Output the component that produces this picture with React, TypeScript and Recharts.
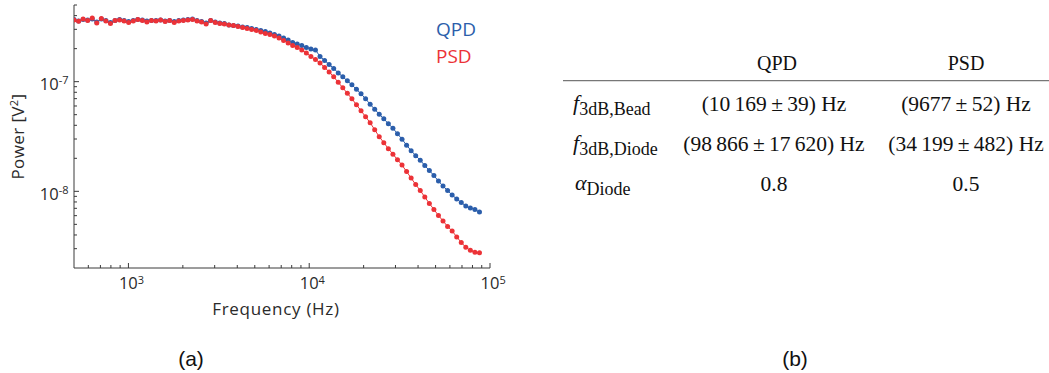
import React from 'react';
import { LineChart, Line, XAxis, YAxis, Label } from 'recharts';

// Frequency bins (Hz)
const frequencies = [
  500, 530, 561.6, 595.2, 630.7, 668.3, 708.3, 750.6, 795.5, 843, 893.3, 946.7,
  1003, 1063, 1127, 1194, 1265, 1341, 1421, 1506, 1596, 1691,
  1792, 1899, 2013, 2133, 2261, 2396, 2539, 2690, 2851, 3022,
  3202, 3393, 3596, 3811, 4039, 4280, 4535, 4806, 5093, 5398,
  5720, 6062, 6424, 6808, 7215, 7646, 8102, 8586, 9099, 9643,
  10219, 10829, 11476, 12162, 12888, 13658, 14474, 15339, 16255, 17226,
  18255, 19346, 20502, 21727, 23025, 24400, 25858, 27403, 29040, 30775,
  32614, 34562, 36627, 38815, 41134, 43591, 46196, 48955, 51880, 54979,
  58264, 61744, 65433, 69343, 73485, 77875, 82528, 87458,
];

// QPD power spectrum (V^2)
const qpdPower = [
  3.685e-7, 3.57e-7, 3.685e-7, 3.646e-7, 3.723e-7, 3.496e-7, 3.723e-7, 3.608e-7, 3.46e-7, 3.608e-7,
  3.685e-7, 3.608e-7, 3.533e-7, 3.608e-7, 3.685e-7, 3.646e-7, 3.57e-7, 3.608e-7, 3.608e-7, 3.646e-7,
  3.57e-7, 3.608e-7, 3.533e-7, 3.608e-7, 3.646e-7, 3.685e-7, 3.723e-7, 3.608e-7, 3.533e-7, 3.424e-7,
  3.608e-7, 3.496e-7, 3.424e-7, 3.388e-7, 3.283e-7, 3.249e-7, 3.215e-7, 3.149e-7, 3.116e-7, 3.052e-7,
  2.988e-7, 2.927e-7, 2.866e-7, 2.777e-7, 2.692e-7, 2.609e-7, 2.502e-7, 2.399e-7, 2.277e-7, 2.206e-7,
  2.138e-7, 2.05e-7, 1.987e-7, 1.946e-7, 1.698e-7, 1.562e-7, 1.437e-7, 1.321e-7, 1.202e-7, 1.106e-7,
  1.017e-7, 0.9352e-7, 0.8511e-7, 0.7746e-7, 0.6978e-7, 0.6218e-7, 0.5601e-7, 0.5044e-7, 0.459e-7, 0.4133e-7,
  0.3762e-7, 0.3352e-7, 0.2988e-7, 0.2636e-7, 0.2349e-7, 0.2115e-7, 0.1925e-7, 0.1716e-7, 0.1546e-7, 0.1392e-7,
  0.1241e-7, 0.1117e-7, 0.1017e-7, 0.09256e-7, 0.08511e-7, 0.07909e-7, 0.07351e-7, 0.07049e-7, 0.06832e-7, 0.06483e-7,
];

// PSD power spectrum (V^2)
const psdPower = [
  3.646e-7, 3.548e-7, 3.723e-7, 3.608e-7, 3.802e-7, 3.424e-7, 3.763e-7, 3.57e-7, 3.388e-7, 3.608e-7,
  3.646e-7, 3.57e-7, 3.46e-7, 3.57e-7, 3.685e-7, 3.608e-7, 3.496e-7, 3.608e-7, 3.57e-7, 3.646e-7,
  3.533e-7, 3.608e-7, 3.46e-7, 3.57e-7, 3.608e-7, 3.646e-7, 3.685e-7, 3.57e-7, 3.496e-7, 3.353e-7,
  3.608e-7, 3.46e-7, 3.388e-7, 3.353e-7, 3.283e-7, 3.249e-7, 3.182e-7, 3.116e-7, 3.052e-7, 2.988e-7,
  2.927e-7, 2.836e-7, 2.749e-7, 2.692e-7, 2.609e-7, 2.502e-7, 2.374e-7, 2.253e-7, 2.138e-7, 2.05e-7,
  1.946e-7, 1.827e-7, 1.698e-7, 1.595e-7, 1.482e-7, 1.349e-7, 1.228e-7, 1.106e-7, 0.9855e-7, 0.8783e-7,
  0.7828e-7, 0.6978e-7, 0.6153e-7, 0.5428e-7, 0.4786e-7, 0.4221e-7, 0.3645e-7, 0.3148e-7, 0.2777e-7, 0.2449e-7,
  0.2183e-7, 0.1945e-7, 0.1734e-7, 0.1514e-7, 0.1321e-7, 0.1153e-7, 0.1017e-7, 0.08875e-7, 0.07745e-7, 0.06832e-7,
  0.06026e-7, 0.0537e-7, 0.04786e-7, 0.04356e-7, 0.03841e-7, 0.03423e-7, 0.03084e-7, 0.02896e-7, 0.02777e-7, 0.02748e-7,
];

const xTicks = [
  600, 700, 800, 900, 1000, 2000, 3000, 4000, 5000, 6000, 7000, 8000, 9000,
  10000, 20000, 30000, 40000, 50000, 60000, 70000, 80000, 90000, 100000,
];
const yTicks = [
  3e-9, 4e-9, 5e-9, 6e-9, 7e-9, 8e-9, 9e-9, 1e-8,
  2e-8, 3e-8, 4e-8, 5e-8, 6e-8, 7e-8, 8e-8, 9e-8, 1e-7,
  2e-7, 3e-7, 4e-7, 5e-7,
];

const seriesNames = ['QPD', 'PSD'];

// Table (b)
const tableHeaders = ['QPD', 'PSD'];
const tableRowSymbols = ['f', 'f', 'α'];
const tableRowSubscripts = ['3dB,Bead', '3dB,Diode', 'Diode'];
const qpdTableValues = ['(10\u2009169\u2009±\u200939) Hz', '(98\u2009866\u2009±\u200917\u2009620) Hz', '0.8'];
const psdTableValues = ['(9677\u2009±\u200952) Hz', '(34\u2009199\u2009±\u2009482) Hz', '0.5'];

const BLUE = '#2b5eab';
const RED = '#ec3237';
const AXIS = '#3a3a3a';
const TEXT = '#2a2a2a';
const SANS = "'Open Sans', 'Noto Sans', sans-serif";
const SERIF = "'Liberation Serif', 'Times New Roman', serif";

const isDecade = (v: number) => Math.abs(Math.log10(v) - Math.round(Math.log10(v))) < 1e-6;

function XTick(props: any) {
  const { x, y, payload } = props;
  const v = payload.value;
  const major = isDecade(v);
  return (
    <g>
      <line x1={x} x2={x} y1={y} y2={y - (major ? 5 : 3)} stroke={AXIS} strokeWidth={1} />
      {major && (
        <text x={x - 9.5} y={y + 21.3} fontFamily={SANS} fontSize={16.5} fill={TEXT}>
          <tspan>10</tspan>
          <tspan dy={-5.5} fontSize={11}>{String(Math.round(Math.log10(v)))}</tspan>
        </text>
      )}
    </g>
  );
}

function YTick(props: any) {
  const { x, y, payload } = props;
  const v = payload.value;
  const major = isDecade(v);
  return (
    <g>
      <line x1={x} x2={x + (major ? 5 : 3)} y1={y} y2={y} stroke={AXIS} strokeWidth={1} />
      {major && (
        <text x={x - 5.5} y={y + 8.4} textAnchor="end" fontFamily={SANS} fontSize={16.5} fill={TEXT}>
          <tspan>10</tspan>
          <tspan dy={-6} fontSize={11}>{String(Math.round(Math.log10(v)))}</tspan>
        </text>
      )}
    </g>
  );
}

export default function App() {
  const data = frequencies.map((f, i) => ({ f, qpd: qpdPower[i], psd: psdPower[i] }));
  const seriesColors = [BLUE, RED];
  return (
    <div
      style={{
        position: 'absolute',
        left: 0,
        top: 0,
        width: 1049,
        height: 373,
        background: '#fff',
        overflow: 'hidden',
      }}
    >
      <div style={{ position: 'absolute', left: 0, top: 0 }}>
        <LineChart width={520} height={340} data={data} margin={{ top: 5, right: 30, bottom: 0, left: 0 }}>
          <XAxis
            dataKey="f"
            type="number"
            scale="log"
            domain={[500, 100000]}
            allowDataOverflow
            ticks={xTicks}
            interval={0}
            height={72}
            tickSize={0}
            tickMargin={0}
            tick={(p: any) => <XTick {...p} />}
            stroke={AXIS}
          >
            <Label
              content={(p: any) => {
                const vb = p.viewBox || { x: 74, y: 268, width: 416 };
                return (
                  <text
                    x={vb.x + vb.width / 2 - 6}
                    y={vb.y + 47}
                    textAnchor="middle"
                    fontFamily={SANS}
                    fontSize={17}
                    letterSpacing={0.7}
                    fill={TEXT}
                  >
                    Frequency (Hz)
                  </text>
                );
              }}
            />
          </XAxis>
          <YAxis
            type="number"
            scale="log"
            domain={[2e-9, 5e-7]}
            allowDataOverflow
            ticks={yTicks}
            interval={0}
            width={74}
            tickSize={0}
            tickMargin={0}
            tick={(p: any) => <YTick {...p} />}
            stroke={AXIS}
          >
            <Label
              content={(p: any) => {
                const vb = p.viewBox || { x: 0, y: 5, height: 263 };
                const cx = 24;
                const cy = vb.y + vb.height / 2;
                return (
                  <text
                    x={cx}
                    y={cy}
                    textAnchor="middle"
                    transform={`rotate(-90, ${cx}, ${cy})`}
                    fontFamily={SANS}
                    fontSize={17}
                    letterSpacing={0.4}
                    fill={TEXT}
                  >
                    <tspan>Power [V</tspan>
                    <tspan dy={-6} fontSize={11}>2</tspan>
                    <tspan dy={6}>]</tspan>
                  </text>
                );
              }}
            />
          </YAxis>
          <Line
            dataKey="qpd"
            name={seriesNames[0]}
            stroke={BLUE}
            strokeWidth={1}
            dot={{ r: 2.5, fill: BLUE, stroke: 'none' }}
            isAnimationActive={false}
          />
          <Line
            dataKey="psd"
            name={seriesNames[1]}
            stroke={RED}
            strokeWidth={1}
            dot={{ r: 2.5, fill: RED, stroke: 'none' }}
            isAnimationActive={false}
          />
        </LineChart>
      </div>

      <svg width={100} height={80} style={{ position: 'absolute', left: 420, top: 0 }}>
        {seriesNames.map((n, i) => (
          <text key={n} x={16} y={36 + i * 27} fontFamily={SANS} fontSize={19} fill={seriesColors[i]}>
            {n}
          </text>
        ))}
      </svg>

      <svg width={509} height={373} style={{ position: 'absolute', left: 540, top: 0 }}>
        <g transform="translate(-540,0)" fontFamily={SERIF} fill="#111">
          {tableHeaders.map((h, i) => (
            <text key={h} x={i === 0 ? 777 : 966} y={70} textAnchor="middle" fontSize={20}>
              {h}
            </text>
          ))}
          <line x1={563} x2={1049} y1={80.7} y2={80.7} stroke="#777" strokeWidth={1.3} />
          {tableRowSymbols.map((s, r) => (
            <text key={'l' + r} x={s === 'α' ? 575 : 573} y={110 + r * 40} fontSize={22}>
              <tspan fontStyle="italic">{s}</tspan>
              <tspan fontSize={18} dy={5}>{tableRowSubscripts[r]}</tspan>
            </text>
          ))}
          {qpdTableValues.map((v, r) => (
            <text key={'q' + r} x={774} y={111 + r * 40} textAnchor="middle" fontSize={21.5}>
              {v}
            </text>
          ))}
          {psdTableValues.map((v, r) => (
            <text key={'p' + r} x={966} y={111 + r * 40} textAnchor="middle" fontSize={21.5}>
              {v}
            </text>
          ))}
        </g>
      </svg>

      <svg width={1049} height={40} style={{ position: 'absolute', left: 0, top: 333 }}>
        <text x={191} y={32.5} textAnchor="middle" fontFamily="'Liberation Sans', Arial, sans-serif" fontSize={21} fill="#111">
          (a)
        </text>
        <text x={795} y={32.5} textAnchor="middle" fontFamily="'Liberation Sans', Arial, sans-serif" fontSize={21} fill="#111">
          (b)
        </text>
      </svg>
    </div>
  );
}
